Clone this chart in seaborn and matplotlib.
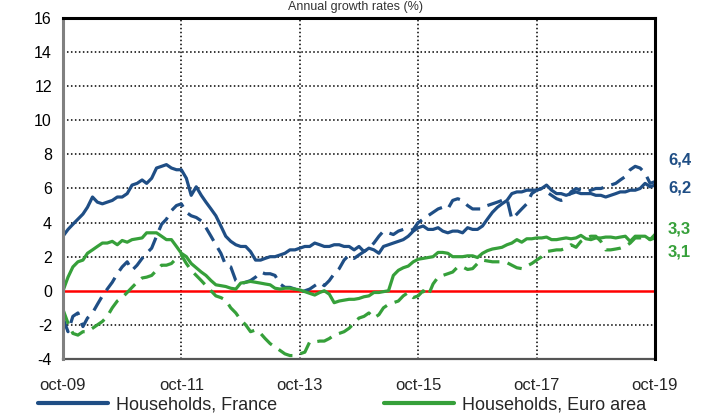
import matplotlib
matplotlib.use("Agg")
import matplotlib.pyplot as plt
import matplotlib.transforms as mtransforms
from matplotlib.lines import Line2D
import pandas as pd
import seaborn as sns

# monthly growth rates (%), oct-09 .. oct-19
fr_solid = [3.2, 3.6, 3.9, 4.2, 4.5, 4.9, 5.5, 5.2, 5.1, 5.2, 5.3, 5.5, 5.5, 5.7, 6.2, 6.3, 6.5, 6.3, 6.6, 7.2,
            7.3, 7.4, 7.2, 7.1, 7.1, 6.6, 5.6, 6.1, 5.6, 5.2, 4.8, 4.4, 3.8, 3.2, 2.9, 2.7, 2.6, 2.6, 2.3, 1.8,
            1.8, 1.9, 2.0, 2.0, 2.1, 2.2, 2.4, 2.4, 2.5, 2.6, 2.6, 2.8, 2.7, 2.6, 2.6, 2.7, 2.7, 2.6, 2.6, 2.4,
            2.6, 2.3, 2.5, 2.4, 2.2, 2.6, 2.7, 2.8, 2.9, 3.0, 3.2, 3.5, 3.7, 3.8, 3.6, 3.6, 3.7, 3.5, 3.4, 3.5,
            3.5, 3.4, 3.7, 3.6, 3.6, 3.8, 4.2, 4.6, 4.9, 5.1, 5.3, 5.7, 5.8, 5.8, 5.9, 5.9, 5.9, 6.0, 6.2, 5.9,
            5.7, 5.7, 5.6, 5.7, 5.8, 5.7, 5.7, 5.7, 5.6, 5.6, 5.5, 5.6, 5.7, 5.8, 5.8, 5.9, 5.9, 6.0, 6.3, 6.1,
            6.2]
fr_dashed = [-1.6, -2.4, -1.5, -1.3, -2.1, -1.6, -1.3, -0.8, -0.3, 0.1, 0.5, 1.0, 1.4, 1.7, 1.2, 1.5, 1.9, 2.2, 2.5, 3.2,
             3.9, 4.2, 4.7, 5.0, 5.1, 4.6, 4.4, 4.3, 4.1, 3.7, 3.2, 2.7, 2.2, 1.5, 1.4, 0.6, 0.4, 0.5, 0.6, 0.8,
             1.1, 1.0, 1.0, 0.9, 0.4, 0.2, 0.2, 0.1, -0.1, 0.0, 0.1, 0.3, 0.5, 0.3, 0.6, 1.0, 1.3, 1.8, 2.1, 1.9,
             2.1, 2.3, 2.5, 2.8, 3.2, 3.5, 3.4, 3.3, 3.5, 3.6, 3.5, 3.6, 4.0, 4.2, 4.4, 4.6, 4.8, 4.9, 4.8, 5.3,
             5.4, 5.3, 5.0, 4.8, 4.8, 4.8, 5.0, 5.1, 5.2, 5.3, 5.4, 4.2, 4.5, 4.8, 5.1, 5.7, 5.9, 6.0, 5.8, 5.6,
             5.4, 5.3, 5.4, 5.8, 6.0, 5.9, 5.8, 5.9, 6.0, 6.0, 6.1, 6.2, 6.3, 6.5, 6.7, 7.1, 7.3, 7.2, 6.9, 6.3,
             6.4]
ea_solid = [0.0, 0.8, 1.4, 1.7, 1.8, 2.2, 2.4, 2.6, 2.8, 2.8, 2.9, 2.7, 2.95, 2.85, 3.0, 3.05, 3.1, 3.4, 3.4, 3.4,
            3.2, 3.0, 3.0, 2.6, 2.2, 2.0, 1.6, 1.35, 1.1, 0.9, 0.6, 0.35, 0.3, 0.25, 0.15, 0.1, 0.45, 0.5, 0.55, 0.5,
            0.45, 0.4, 0.35, 0.15, 0.1, 0.15, 0.15, 0.1, 0.05, -0.05, -0.15, -0.25, -0.1, 0.0, -0.2, -0.7, -0.6, -0.55, -0.5, -0.5,
            -0.45, -0.35, -0.3, -0.1, -0.1, -0.05, 0.0, 0.9, 1.2, 1.35, 1.45, 1.7, 1.85, 1.9, 1.95, 2.0, 2.25, 2.25, 2.2, 2.0,
            2.0, 2.0, 2.05, 2.05, 1.95, 2.2, 2.35, 2.45, 2.5, 2.55, 2.7, 2.8, 3.0, 2.85, 3.05, 3.05, 3.1, 3.1, 3.15, 3.0,
            3.0, 3.05, 3.1, 3.05, 3.1, 3.25, 3.05, 3.0, 3.1, 3.1, 3.15, 3.15, 3.1, 3.15, 3.2, 2.9, 3.2, 3.2, 3.2, 3.0,
            3.3]
ea_dashed = [-1.1, -1.9, -2.5, -2.6, -2.4, -2.4, -2.2, -2.0, -1.8, -1.5, -1.0, -0.6, -0.4, -0.1, 0.2, 0.5, 0.75, 0.8, 0.9, 1.2,
             1.5, 1.5, 1.6, 1.9, 2.1, 1.6, 1.2, 0.9, 0.6, 0.3, 0.0, -0.3, -0.4, -0.55, -1.0, -1.3, -1.7, -2.0, -2.4, -2.3,
             -2.5, -2.8, -3.1, -3.3, -3.5, -3.7, -3.8, -3.8, -3.7, -3.6, -3.0, -3.0, -2.95, -2.95, -2.8, -2.6, -2.5, -2.4, -2.2, -1.9,
             -1.6, -1.5, -1.3, -1.6, -1.4, -1.0, -0.8, -0.7, -0.6, -0.3, -0.1, -0.4, -0.3, 0.0, -0.3, 0.4, 0.8, 0.9, 1.0, 1.1,
             1.4, 1.4, 1.25, 1.3, 1.6, 1.8, 1.75, 1.7, 1.7, 1.7, 1.65, 1.5, 1.35, 1.3, 1.45, 1.6, 1.8, 2.0, 2.3, 2.35,
             2.4, 2.4, 2.5, 2.7, 2.55, 2.9, 3.1, 3.2, 3.2, 2.9, 2.4, 2.4, 2.45, 2.5, 2.6, 2.8, 3.1, 3.1, 3.2, 3.0,
             3.1]

dates = pd.date_range("2009-10-01", periods=len(fr_solid), freq="MS")
tick_dates = pd.to_datetime(["2009-10-01", "2011-10-01", "2013-10-01", "2015-10-01", "2017-10-01", "2019-10-01"])
tick_labels = ["oct-09", "oct-11", "oct-13", "oct-15", "oct-17", "oct-19"]
y_ticks = list(range(-4, 17, 2))

BLUE = "#1F4E85"
GREEN = "#36A03A"

sns.set_theme(style="white")
plt.rcParams["font.family"] = ["Liberation Sans", "DejaVu Sans"]
plt.rcParams["axes.unicode_minus"] = False

fig = plt.figure(figsize=(7.11, 4.15), dpi=100)
ax = fig.add_axes([0.0886, 0.135, 0.8326, 0.8216])

df = pd.DataFrame({"date": dates, "fr": fr_solid, "fr_d": fr_dashed, "ea": ea_solid, "ea_d": ea_dashed})

lw = 2.3
sns.lineplot(data=df, x="date", y="fr_d", ax=ax, color=BLUE, linewidth=lw)
sns.lineplot(data=df, x="date", y="ea_d", ax=ax, color=GREEN, linewidth=lw)
for ln in ax.get_lines():
    ln.set_dashes((4.8, 2.6))
sns.lineplot(data=df, x="date", y="ea", ax=ax, color=GREEN, linewidth=lw)
sns.lineplot(data=df, x="date", y="fr", ax=ax, color=BLUE, linewidth=lw)

ax.set_xlim(tick_dates[0], tick_dates[-1])
ax.set_ylim(-4, 16)
ax.set_yticks(y_ticks)
ax.set_xticks(tick_dates)
ax.set_xlabel("")
ax.set_ylabel("")

grid_kw = dict(color="black", linewidth=1.1, linestyle=(0, (1, 1.6)), zorder=0)
for y in y_ticks[1:-1]:
    if y != 0:
        ax.axhline(y, **grid_kw)
for d in tick_dates[1:-1]:
    ax.axvline(d, **grid_kw)

# zero line as the x axis, in red
ax.spines["bottom"].set_position(("data", 0))
ax.spines["bottom"].set_color("red")
ax.spines["bottom"].set_linewidth(1.8)
ax.spines["bottom"].set_zorder(1)
ax.tick_params(axis="x", direction="inout", length=8, width=1.6, color="red", labelbottom=False)
ax.tick_params(axis="y", length=0, pad=8, labelsize=11.5, labelcolor="black")
for s in ["top", "right"]:
    ax.spines[s].set_color("black")
    ax.spines[s].set_linewidth(2.2)
ax.spines["left"].set_color("#808080")
ax.spines["left"].set_linewidth(2.2)

sec = ax.secondary_xaxis(0.0)
sec.set_xticks(tick_dates)
sec.set_xticklabels(tick_labels)
sec.tick_params(length=0, pad=14, labelsize=12)
sec.spines["bottom"].set_color("#555555")
sec.spines["bottom"].set_linewidth(1.6)

# end values
blend = mtransforms.blended_transform_factory(ax.transAxes, ax.transData)
end_labels = [
    (fr_dashed[-1], 7.7, BLUE),
    (fr_solid[-1], 6.05, BLUE),
    (ea_solid[-1], 3.6, GREEN),
    (ea_dashed[-1], 2.3, GREEN),
]
for val, ypos, col in end_labels:
    ax.text(1.022, ypos, f"{val:.1f}".replace(".", ","), transform=blend, color=col,
            fontsize=12, fontweight="bold", va="center", ha="left")

fig.text(0.5, 0.998, "Annual growth rates (%)", ha="center", va="top", fontsize=9, color="#333333")

handles = [Line2D([], [], color=BLUE, linewidth=3), Line2D([], [], color=GREEN, linewidth=3)]
fig.legend(handles, ["Households, France", "Households, Euro area"], loc="center left",
           bbox_to_anchor=(0.053, 0.024), ncol=2, frameon=False, fontsize=13,
           handlelength=3.9, handletextpad=0.45, columnspacing=5.9, borderaxespad=0, borderpad=0)

fig.savefig("out.png", dpi=100)
